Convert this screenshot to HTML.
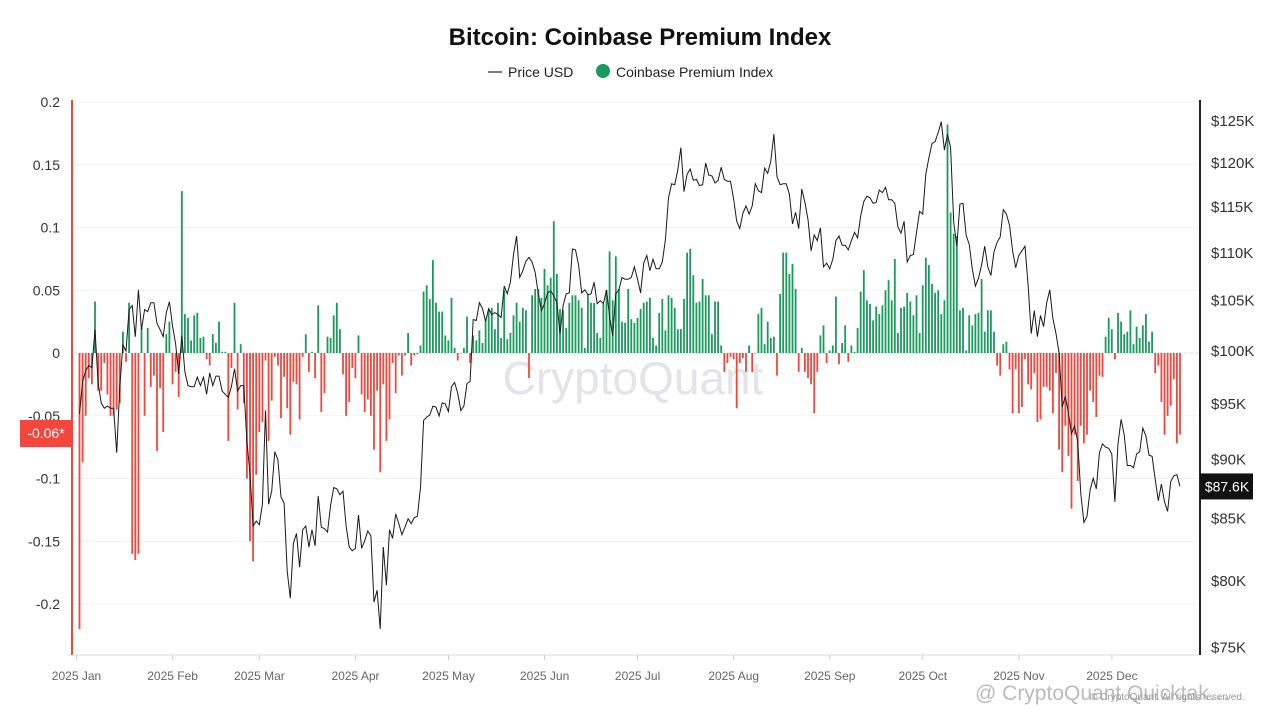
<!DOCTYPE html>
<html><head><meta charset="utf-8"><title>Bitcoin: Coinbase Premium Index</title>
<style>
html,body{margin:0;padding:0;background:#fff;}
body{width:1280px;height:720px;overflow:hidden;font-family:"Liberation Sans",sans-serif;}
</style></head>
<body>
<svg id="chart" width="1280" height="720" xmlns="http://www.w3.org/2000/svg" style="display:block">
<text x="640" y="45" text-anchor="middle" font-size="24" font-weight="bold" fill="#111">Bitcoin: Coinbase Premium Index</text>
<g>
 <g>
  <line x1="488" y1="72" x2="502" y2="72" stroke="#222" stroke-width="1.2"/>
  <text x="508" y="77" font-size="14" fill="#222">Price USD</text>
 </g>
 <g>
  <circle cx="603" cy="71" r="7" fill="#1a9a5c"/>
  <text x="616" y="77" font-size="14" fill="#222">Coinbase Premium Index</text>
 </g>
</g>
<text x="633" y="394" text-anchor="middle" font-size="46" fill="#e3e3ea">CryptoQuant</text>
<g id="grid"></g>
<g id="bars"></g>
<path id="price" fill="none" stroke="#1a1a1a" stroke-width="1"/>
<g id="axes"></g>
<text x="975" y="700" font-size="21" fill="#bbb">@ CryptoQuant Quicktak…</text>
<text x="1090" y="700" font-size="10" fill="#999">© CryptoQuant. All rights reserved.</text>
</svg>
<script>
const premJanFeb = [-0.22,-0.087,-0.05,-0.02,-0.025,0.041,-0.03,-0.03,-0.008,-0.033,-0.05,-0.05,-0.045,-0.04,0.017,-0.007,0.04,-0.16,-0.165,-0.16,0.02,-0.05,0.02,-0.027,-0.018,-0.078,-0.028,-0.063,0.015,0.025,-0.025,
-0.015,-0.035,0.129,0.031,0.028,0.01,0.03,0.032,0.012,0.013,-0.005,-0.01,0.015,0.008,0.025,0.001,0.001,-0.07,-0.012,0.04,-0.045,0.007,-0.04,-0.1];
const premMarApr = [-0.15,-0.166,-0.097,-0.063,-0.055,-0.006,-0.07,-0.038,-0.003,-0.01,-0.052,-0.019,-0.044,-0.065,-0.023,-0.025,-0.053,-0.003,0.015,-0.015,0.001,-0.02,0.038,-0.047,-0.032,0.013,0.012,0.03,0.04,0.019,-0.017,-0.05,-0.039,-0.012,-0.02,0.014,-0.033,-0.047,-0.037,-0.05,-0.077,-0.03,-0.095,-0.025,-0.07,-0.053,-0.008,-0.032,-0.002,-0.018,-0.002,0.016,-0.01,-0.002,-0.001,0.006,0.049,0.054,0.043,0.074,0.04,0.033,0.033,0.014,0.01];
const premMayJun = [0.044,0.004,-0.006,0,0.004,0.029,-0.008,0.014,0.01,0.018,0.008,0.026,0.034,0.036,0.019,0.04,0.012,0.05,0.011,0.016,0.03,0.04,0.025,0.036,0.034,-0.02,0.046,0.051,0.051,0.044,0.067,0.054,0.06,0.105,0.063,0.035,0.034,0.02,0.04,0.046,0.046,0.042,0.036,0.004,0.047,0.04,0.04,0.016,0.012,0.039,0.05,0.081,0.042,0.077,0.051,0.025,0.024];
const premJulAug = [0.051,0.027,0.024,0.028,0.035,0.04,0.041,0.044,0.012,0.006,0.032,0.043,0.018,0.046,0.044,0.036,0.019,0.019,0.043,0.08,0.083,0.062,0.04,0.041,0.059,0.046,0.046,0.015,0.041,0.041,0.006,-0.015,-0.008,-0.003,-0.005,-0.044,-0.008,-0.004,-0.015,0.006,-0.015,0,0.031,0.036,0.007,0.025,0.012,0.013,-0.018,0.047,0.08,0.08,0.063,0.071,0.051,-0.015,0.004,-0.015,-0.02,-0.025,-0.048,-0.015,0.014,0.022,-0.008];
const premSepOct = [0.002,0.006,0.045,-0.009,0.008,0.022,-0.007,0.006,0.001,0.02,0.049,0.066,0.042,0.039,0.026,0.037,0.031,0.038,0.05,0.058,0.042,0.075,0.016,0.036,0.037,0.048,0.041,0.03,0.046,0.016,0.054,0.076,0.07,0.055,0.048,0.05,0.031,0.042,0.182,0.112,0.095,0.093,0.034,0.036,0.002,0.03,0.022,0.031,0.032,0.059,0.017,0.034,0.034,0.017,-0.01,-0.018,0.007,0.009,-0.013,-0.048];
const premNovDec = [-0.013,-0.048,-0.043,-0.005,-0.025,-0.029,-0.016,-0.055,-0.053,-0.027,-0.027,-0.03,-0.048,-0.016,-0.077,-0.095,-0.058,-0.082,-0.124,-0.065,-0.102,-0.058,-0.072,-0.065,-0.03,-0.039,-0.051,-0.018,-0.019,0.013,0.028,0.019,-0.005,0.032,0.025,0.015,0.017,0.034,0.007,0.021,0.012,0.022,0.031,0.009,0.017,-0.016,-0.01,-0.039,-0.065,-0.05,-0.042,-0.021,-0.072,-0.065];
const priceQ1 = [94,97,98,98.5,98.3,102,96.9,95,94.5,94.7,94.5,94.5,90.5,96.5,100.5,99.9,104,104.4,101.3,106,102,104,103.8,104.7,104.7,102.6,102,101.3,103.7,104.8,102.4,
100.6,97.7,101.4,97.9,96.6,96.5,96.5,97.4,96.6,97.4,95.8,97.8,96.6,97.5,97.5,96.1,95.8,95.5,96.5,98.2,96.1,96.6,96.6,91.5,88.7,84.3,84.7,84.4,
86.1,94.3,86.1,87.2,90.6,89.9,86.7,86.2,80.7,78.6,82.9,83.7,81,84,84.3,82.6,84,82.7,86.8,84.2,84.1,83.8,86,87.5,87.4,86.9,87.2,84.3,82.6,82.3,82.5];
const priceQ2 = [85.2,82.5,83.1,83.9,83.5,78.3,79.2,76.3,82.6,79.6,84,83.3,85.3,84.5,83.6,84.2,84.9,84.5,85,85.1,87.5,93.4,93.7,93.9,94.7,94.6,93.8,95,94.9,94.2,
96.5,96.9,95.9,94.3,94.7,96.8,97,103,102.9,104.7,104.1,102.8,104.1,103.5,103.7,103.5,103.2,106.4,105.6,106.8,109.7,111.7,107.3,108,109,109.4,108.9,107.8,105.6,103.9,104.6,
105.7,105.9,105.4,104.7,101.6,104.4,105.6,105.7,110.3,110.2,108.6,105.7,106,105.5,105.6,106.8,104.6,104.9,104.6,106,103.3,101.4,105.6,106,107.3,107.1,107.1,107.3,108.4,107.1];
const priceQ3 = [105.7,108.8,109.6,108,109.2,108.2,108.2,108.9,111.3,115.9,117.5,117.4,119.1,121.7,116.6,118.6,119.2,117.9,118,117.3,117.4,119.9,118.5,118.4,117.6,117.9,119.4,118,117.8,117.8,115.8,
113.3,112.5,114.2,115,114.1,115,117.5,116.7,116.5,119.3,118.7,120.1,123.3,118.3,117.4,117.5,117.5,116.3,113,114.3,112.5,116.9,115.4,113.5,110.1,111.8,111.2,112.6,108.4,108.8,108.2,
109.2,111.2,111.7,110.7,110.7,110.2,111.2,112.1,111.5,113.9,115.5,116.1,115.9,115.3,115.4,116.8,116.5,117.1,115.7,115.7,115.3,112.7,112,113.3,108.9,109.6,109.7,112.1,114.4,114.1];
const priceQ4 = [118.6,120.5,122.2,122.4,123.5,124.8,121.4,123.3,121.7,113.2,110.6,115.2,115.3,111.8,110.8,108.2,106.4,107.2,108.6,110.6,108.4,107.5,110,111,111.6,114.6,114.1,112.9,110.1,108.3,109.6,
110.1,110.6,106.5,101.6,103.9,101.3,103.4,102.3,104.7,106,103.1,101.6,99.7,94.6,95.6,94.1,92.2,92.9,91.5,87,84.6,85.1,87.3,88.3,87.4,90.5,91.3,91,90.9,90.4,
86.3,91.3,93.5,92.1,89.4,89.4,89.2,90.4,90.6,92.7,92,90.3,90.2,88.2,86.4,87.8,86.3,85.5,88,88.5,88.6,87.6];
const leftTicks = [0.2,0.15,0.1,0.05,0,-0.05,-0.1,-0.15,-0.2];
const rightTicks = [125,120,115,110,105,100,95,90,85,80,75];
const monthLabels = ["2025 Jan","2025 Feb","2025 Mar","2025 Apr","2025 May","2025 Jun","2025 Jul","2025 Aug","2025 Sep","2025 Oct","2025 Nov","2025 Dec"];
const monthStartDays = [0,31,59,90,120,151,181,212,243,273,304,334];
const currentPremium = "-0.06*";
const lastPrice = "$87.6K";

const premium = premJanFeb.concat(premMarApr, premMayJun, premJulAug, premSepOct, premNovDec);
const price = priceQ1.concat(priceQ2, priceQ3, priceQ4);
const NS = "http://www.w3.org/2000/svg";
const X0 = 79.5, DX = 3.1;
const xOf = d => X0 + d * DX;
const yL = v => 353 - v * 1255;
const yR = p => 350 - 2373 * Math.log10(p / 100);
function mk(tag, attrs, parent) { const e = document.createElementNS(NS, tag); for (const k in attrs) e.setAttribute(k, attrs[k]); parent.appendChild(e); return e; }

const grid = document.getElementById('grid');
leftTicks.forEach(t => {
  const l = mk('line', {x1: 74, x2: 1198, y1: yL(t), y2: yL(t), stroke: '#f1f1f1', 'stroke-width': 1}, grid);
  
  
});
const zl = mk('line', {x1: 74, x2: 1198, y1: yL(0), y2: yL(0), stroke: '#d8d8d8', 'stroke-width': 1, 'stroke-dasharray': '3,3'}, grid);



const bars = document.getElementById('bars');
premium.forEach((v, i) => {
  const y0 = yL(0), y1 = yL(v);
  const r = mk('rect', {x: xOf(i) - 0.9, y: Math.min(y0, y1), width: 1.8, height: Math.max(0.5, Math.abs(y1 - y0)), fill: v >= 0 ? '#1a9a5c' : '#f4463c'}, bars);
  
  
});

document.getElementById('price').setAttribute('d', price.map((p, i) => (i ? 'L' : 'M') + xOf(i).toFixed(1) + ',' + yR(p).toFixed(1)).join(''));

const axes = document.getElementById('axes');
const la = mk('line', {x1: 72, x2: 72, y1: 100, y2: 655, stroke: '#f4463c', 'stroke-width': 2}, axes);


const ra = mk('line', {x1: 1200, x2: 1200, y1: 100, y2: 655, stroke: '#222', 'stroke-width': 2}, axes);


const xa = mk('line', {x1: 72, x2: 1199, y1: 655, y2: 655, stroke: '#ddd', 'stroke-width': 1}, axes);


leftTicks.forEach(t => {
  const tx = mk('text', {x: 60, y: yL(t) + 5, 'text-anchor': 'end', 'font-size': 14, fill: '#333'}, axes);
  tx.textContent = String(t);
  
  
});
rightTicks.forEach(t => {
  const tx = mk('text', {x: 1211, y: yR(t) + 6, 'font-size': 15, fill: '#333'}, axes);
  tx.textContent = '$' + t + 'K';
  
  
});
monthLabels.forEach((m, i) => {
  const tx = mk('text', {x: xOf(monthStartDays[i]) - 3, y: 680, 'text-anchor': 'middle', 'font-size': 12, fill: '#666'}, axes);
  tx.textContent = m;
  
  
  const tk = mk('line', {x1: xOf(monthStartDays[i]) - 3, x2: xOf(monthStartDays[i]) - 3, y1: 655, y2: 660, stroke: '#ccc'}, axes);
  
  
});
const lb = mk('g', {}, axes);


mk('rect', {x: 20, y: 420, width: 52, height: 27, fill: '#f4463c'}, lb);
const lbt = mk('text', {x: 46, y: 438, 'text-anchor': 'middle', 'font-size': 14, fill: '#fff'}, lb);
lbt.textContent = currentPremium;
const pb = mk('g', {}, axes);


const py = yR(price[price.length - 1]);
mk('rect', {x: 1200, y: py - 13, width: 53, height: 26, fill: '#111'}, pb);
const pbt = mk('text', {x: 1227, y: py + 5, 'text-anchor': 'middle', 'font-size': 14, fill: '#fff'}, pb);
pbt.textContent = lastPrice;
</script>
</body></html>
